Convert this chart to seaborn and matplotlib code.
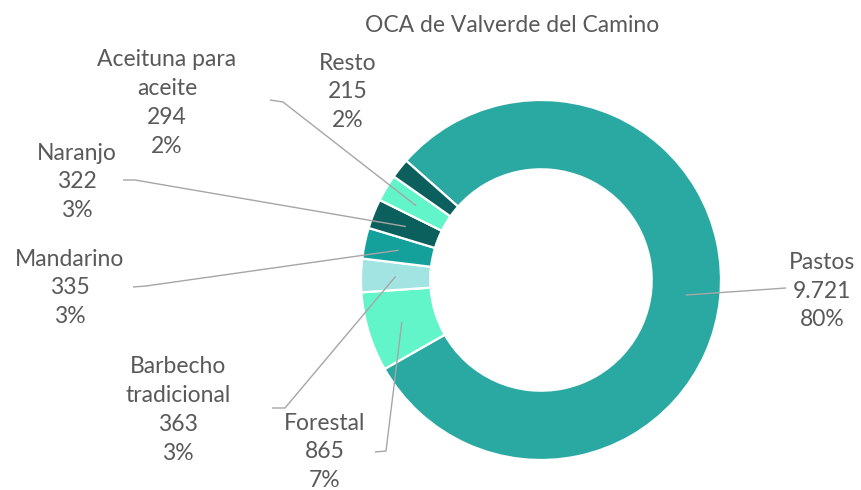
import numpy as np
import matplotlib
matplotlib.use("Agg")
import matplotlib.pyplot as plt
import seaborn as sns

# ---- data ----
categories = ["Pastos", "Forestal", "Barbecho\ntradicional", "Mandarino",
              "Naranjo", "Aceituna para\naceite", "Resto"]
values = [9721, 865, 363, 335, 322, 294, 215]
colors = ["#2AA9A2", "#62F5CA", "#A2E4E2", "#14A09B", "#0B5F5C", "#62F5CA", "#0B5F5C"]
title = "OCA de Valverde del Camino"

sns.set_theme(style="white")
plt.rcParams["font.family"] = ["Lato", "DejaVu Sans"]

W, H = 861, 490
fig = plt.figure(figsize=(W / 100, H / 100), dpi=100)
ax = fig.add_axes([0, 0, 1, 1])
ax.set_xlim(0, W)
ax.set_ylim(0, H)
ax.set_aspect("equal")
ax.axis("off")

def P(x, y):
    return (x, H - y)

cx, cy = P(541, 280)
R = 180
width_frac = 0.385
start = 138.5

wedges, _ = ax.pie(values, colors=colors, startangle=start, counterclock=False,
                   radius=R, center=(cx, cy), frame=True,
                   wedgeprops=dict(width=R * width_frac, edgecolor="white", linewidth=1.6))
ax.set_xlim(0, W)
ax.set_ylim(0, H)
ax.axis("off")

total = sum(values)
txt_color = "#595959"
fs = 16.5

# label layout (pixel coordinates, from top-left)
label_pos = [(822, 291), (325, 452), (178, 410), (70, 288), (77, 182), (167, 103), (348, 92)]
stubs = [
    [(786, 288)],
    [(375, 452), (386, 451)],
    [(272, 408), (285, 408)],
    [(133, 287), (146, 286)],
    [(123, 180), (135, 180)],
    [(270, 100), (283, 102)],
    None,
]

def fmt(v):
    return f"{v:,}".replace(",", ".")

for w, name, v, lp, st in zip(wedges, categories, values, label_pos, stubs):
    pct = round(100 * v / total)
    ax.text(*P(*lp), f"{name}\n{fmt(v)}\n{pct}%", ha="center", va="center",
            fontsize=fs, color=txt_color, linespacing=1.47)
    if st is None:
        continue
    mid = np.deg2rad((w.theta1 + w.theta2) / 2)
    rm = R * (1 - width_frac / 2)
    ex, ey = cx + rm * np.cos(mid), cy + rm * np.sin(mid)
    pts = [P(*p) for p in st] + [(ex, ey)]
    xs, ys = zip(*pts)
    ax.plot(xs, ys, color="#A6A6A6", lw=1.0, solid_capstyle="butt", zorder=3)

ax.text(*P(512, 25), title, ha="center", va="center", fontsize=fs, color=txt_color)

fig.savefig("out.png", dpi=100, facecolor="white")
